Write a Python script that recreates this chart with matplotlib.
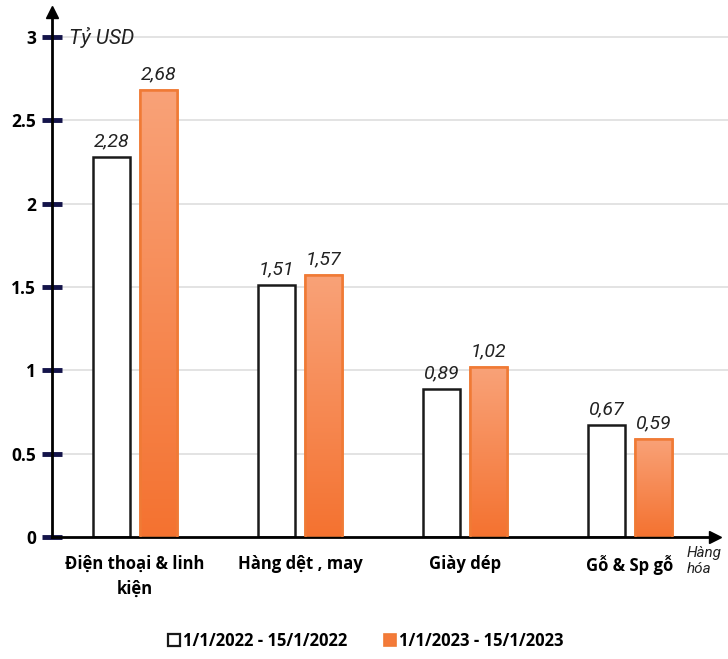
import matplotlib
matplotlib.use("Agg")
import matplotlib.pyplot as plt
import numpy as np
from matplotlib.patches import Patch

categories = ["Điện thoại & linh\nkiện", "Hàng dệt , may", "Giày dép", "Gỗ & Sp gỗ"]
values_2022 = [2.28, 1.51, 0.89, 0.67]
values_2023 = [2.68, 1.57, 1.02, 0.59]
labels_2022 = ["2,28", "1,51", "0,89", "0,67"]
labels_2023 = ["2,68", "1,57", "1,02", "0,59"]
series_names = ["1/1/2022 - 15/1/2022", "1/1/2023 - 15/1/2023"]
yticks = [0, 0.5, 1, 1.5, 2, 2.5, 3]
ytick_labels = ["0", "0.5", "1", "1.5", "2", "2.5", "3"]

W, H = 728, 659
fig = plt.figure(figsize=(W / 100, H / 100), dpi=100)
# axes placed in pixel terms: left spine at x=52, zero line at y=537
ax = fig.add_axes([52 / W, (H - 537) / H, 663 / W, 525 / H])

x = np.arange(len(categories))
bw = 0.224
off = 0.142
xlim = (-83 / 165, (663 - 83) / 165)
ylim = (0, 3.15)

for v in yticks[1:]:
    ax.axhline(v, color="#dedede", lw=1.2, zorder=0, xmin=0.0, xmax=1.02, clip_on=False)

ax.bar(x - off, values_2022, bw, facecolor="white", edgecolor="#1a1a1a", linewidth=1.8, zorder=2)
bars = ax.bar(x + off, values_2023, bw, facecolor="#f58a50", edgecolor="#f07a35", linewidth=1.8, zorder=2)

# orange bars: light at the top, saturated at the bottom
grad = np.linspace(1, 0, 256).reshape(-1, 1)
cmap = matplotlib.colors.LinearSegmentedColormap.from_list("o", ["#f47230", "#f9a278"])
for b in bars:
    x0, y0, w, h = b.get_x(), b.get_y(), b.get_width(), b.get_height()
    im = ax.imshow(grad, extent=[x0, x0 + w, y0, y0 + h], origin="upper", cmap=cmap,
                   aspect="auto", zorder=2.5)
    im.set_clip_path(b)
    ax.bar(x0 + w / 2, h, w, facecolor="none", edgecolor="#f07a35", linewidth=1.8, zorder=3)
ax.set_xlim(*xlim)
ax.set_ylim(*ylim)

lab_font = dict(fontsize=14, fontstyle="italic", family="Roboto", color="#222222",
                ha="center", va="bottom")
for i in range(len(categories)):
    ax.text(x[i] - off, values_2022[i] + 0.04, labels_2022[i], **lab_font)
    ax.text(x[i] + off, values_2023[i] + 0.04, labels_2023[i], **lab_font)

for s in ["top", "right"]:
    ax.spines[s].set_visible(False)
ax.spines["left"].set_linewidth(2)
ax.spines["bottom"].set_linewidth(2)
ax.plot(0, 1.0, "^k", ms=9, transform=ax.transAxes, clip_on=False)
ax.plot(1.0, 0, ">k", ms=9, transform=ax.transAxes, clip_on=False)

ax.set_yticks(yticks)
ax.set_yticklabels(ytick_labels, fontsize=12.5, fontweight="bold", family="Open Sans")
ax.tick_params(axis="y", direction="inout", length=15, width=3.5, color="#14144a", pad=4)
ax.set_xticks(x)
ax.set_xticklabels(categories, fontsize=12, fontweight="bold", family="Open Sans", linespacing=1.5)
ax.tick_params(axis="x", length=0, pad=13)

ax.text(0.025, 3.0, "Tỷ USD", fontsize=15, fontstyle="italic", family="Roboto",
        color="#222222", transform=ax.get_yaxis_transform(), va="center", ha="left")
fig.text(687 / W, 1 - 561 / H, "Hàng\nhóa", fontsize=11, fontstyle="italic", family="Roboto",
         color="#222222", ha="left", va="center", linespacing=1.2)

handles = [
    Patch(facecolor="white", edgecolor="#1a1a1a", linewidth=1.6),
    Patch(facecolor="#f47a3a", edgecolor="#f07a35", linewidth=1.2),
]
fig.legend(handles, series_names, loc="center", bbox_to_anchor=(366 / W, 1 - 641 / H), ncol=2,
           frameon=False, prop={"family": "Open Sans", "weight": "bold", "size": 12},
           handlelength=0.7, handleheight=0.7, handletextpad=0.2, columnspacing=2.2)

fig.savefig("out.png", dpi=100)
